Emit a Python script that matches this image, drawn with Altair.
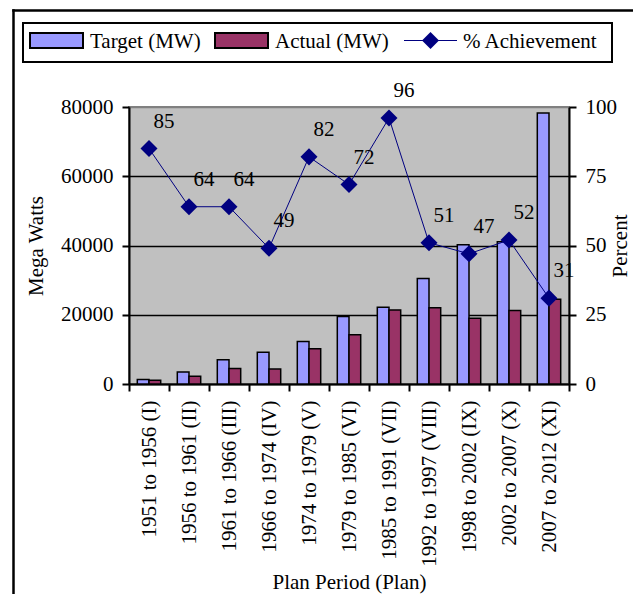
import altair as alt
import pandas as pd

plans = ["1951 to 1956 (I)", "1956 to 1961 (II)", "1961 to 1966 (III)",
         "1966 to 1974 (IV)", "1974 to 1979 (V)", "1979 to 1985 (VI)",
         "1985 to 1991 (VII)", "1992 to 1997 (VIII)", "1998 to 2002 (IX)",
         "2002 to 2007 (X)", "2007 to 2012 (XI)"]
target_mw = [1300, 3500, 7000, 9200, 12300, 19500, 22200, 30500, 40250, 41100, 78300]
actual_mw = [1100, 2250, 4500, 4300, 10200, 14200, 21400, 22000, 19000, 21200, 24500]
achievement = [85, 64, 64, 49, 82, 72, 96, 51, 47, 52, 31]
series_names = ["Target (MW)", "Actual (MW)", "% Achievement"]
series_colors = ["#9999FF", "#993366", "#000080"]
y_left_ticks = [0, 20000, 40000, 60000, 80000]
y_right_ticks = [0, 25, 50, 75, 100]

FONT = "Liberation Serif"
FS = 21
NAVY = series_colors[2]

bars_df = pd.DataFrame(
    [{"plan": p, "series": series_names[0], "mw": t} for p, t in zip(plans, target_mw)]
    + [{"plan": p, "series": series_names[1], "mw": a} for p, a in zip(plans, actual_mw)]
)
pct_df = pd.DataFrame({"plan": plans, "pct": achievement})

x_enc = alt.X(
    "plan:N", sort=plans, title="Plan Period (Plan)",
    scale=alt.Scale(paddingInner=0, paddingOuter=0),
    axis=alt.Axis(labelAngle=270, tickBand="extent", labelPadding=9,
                  titlePadding=5, labelLimit=300, grid=False),
)

bars = alt.Chart(bars_df).mark_bar(stroke="black", strokeWidth=1.5).encode(
    x=x_enc,
    xOffset=alt.XOffset("series:N", sort=series_names[:2],
                        scale=alt.Scale(paddingInner=0, paddingOuter=0.71)),
    y=alt.Y("mw:Q", title="Mega Watts",
            scale=alt.Scale(domain=[0, 80000], nice=False),
            axis=alt.Axis(values=y_left_ticks, format="d", grid=True,
                          gridColor={"condition": {"test": "datum.value === 80000",
                                                   "value": "#808080"},
                                     "value": "black"},
                          titlePadding=14)),
    color=alt.Color("series:N",
                    scale=alt.Scale(domain=series_names[:2], range=series_colors[:2]),
                    legend=None),
)

y_pct = alt.Y("pct:Q", title="Percent",
              scale=alt.Scale(domain=[0, 100], nice=False),
              axis=alt.Axis(orient="right", values=y_right_ticks, grid=False,
                            titleAngle=270, titleBaseline="top", titlePadding=-7))

base_pct = alt.Chart(pct_df).encode(x=x_enc, y=y_pct)
line = base_pct.mark_line(color=NAVY, strokeWidth=1)
pts = base_pct.mark_point(shape="diamond", filled=True, size=290, color=NAVY, opacity=1)
lbls = base_pct.mark_text(dx=15, dy=-27, font=FONT, fontSize=FS, color="black").encode(
    text="pct:Q")
pct_layer = alt.layer(line, pts, lbls)

# outer frame (left and top edges; the others lie beyond the picture) and legend
fdf = pd.DataFrame({"k": ["frame"]})
frame_left = alt.Chart(fdf).mark_rule(color="black", strokeWidth=2.5).encode(
    x=alt.value(-115.5), y=alt.value(-97.75), y2=alt.value(900))
frame_top = alt.Chart(fdf).mark_rule(color="black", strokeWidth=2.5).encode(
    x=alt.value(-116.75), x2=alt.value(900), y=alt.value(-96.5))

legbox = alt.Chart(pd.DataFrame({"k": ["legend"]})).mark_rect(
    fill="white", stroke="black", strokeWidth=2).encode(
    x=alt.value(-106), x2=alt.value(483), y=alt.value(-84), y2=alt.value(-45))

def leg_swatch(i, x0):
    d = pd.DataFrame({"name": [series_names[i]]})
    sw = alt.Chart(d).mark_rect(fill=series_colors[i], stroke="black", strokeWidth=2).encode(
        x=alt.value(x0), x2=alt.value(x0 + 53), y=alt.value(-74), y2=alt.value(-59))
    tx = alt.Chart(d).mark_text(font=FONT, fontSize=FS, align="left",
                                baseline="alphabetic", color="black").encode(
        x=alt.value(x0 + 60), y=alt.value(-59.5), text="name:N")
    return [sw, tx]

d3 = pd.DataFrame({"name": [series_names[2]]})
leg_line = alt.Chart(d3).mark_rule(color=NAVY, strokeWidth=1).encode(
    x=alt.value(275), x2=alt.value(328), y=alt.value(-66.5))
leg_pt = alt.Chart(d3).mark_point(shape="diamond", filled=True, size=290,
                                  color=NAVY, opacity=1).encode(
    x=alt.value(301.5), y=alt.value(-66.5))
leg_tx = alt.Chart(d3).mark_text(font=FONT, fontSize=FS, align="left",
                                 baseline="alphabetic", color="black").encode(
    x=alt.value(334), y=alt.value(-59.5), text="name:N")

chart = alt.layer(
    frame_left, frame_top, legbox, *leg_swatch(0, -99), *leg_swatch(1, 86),
    leg_line, leg_pt, leg_tx, bars, pct_layer,
).resolve_scale(y="independent").properties(
    width=440, height=277,
    autosize=alt.AutoSizeParams(type="none"),
    padding={"left": 121, "top": 99, "right": 64, "bottom": 210},
).configure_view(
    fill="#C0C0C0", stroke="#808080", strokeWidth=2,
).configure_axis(
    labelFont=FONT, titleFont=FONT, labelFontSize=FS, titleFontSize=FS,
    titleFontWeight="normal", labelColor="black", titleColor="black",
    domainColor="black", tickColor="black", tickSize=7, domainWidth=2,
    tickWidth=2, gridWidth=1.5, labelPadding=9,
).configure_text(font=FONT)

chart.save("out.html", embed_options={"renderer": "svg", "actions": False})
